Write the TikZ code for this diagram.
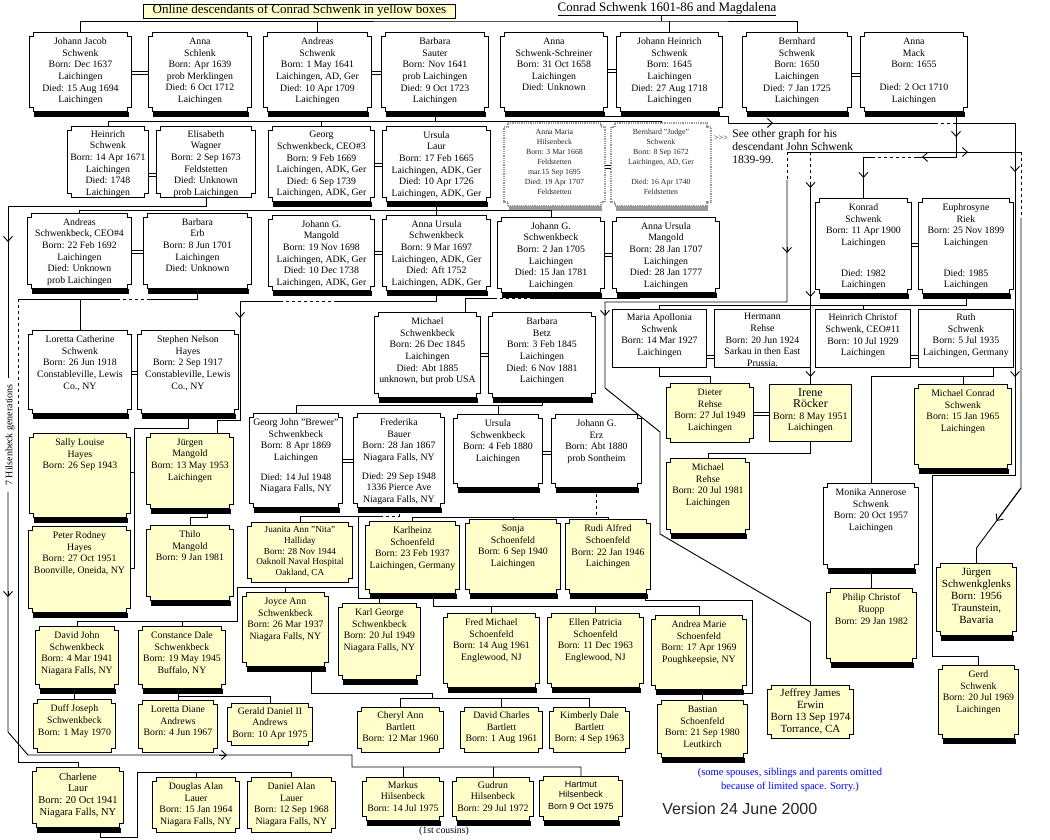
\documentclass[tikz,border=0pt]{standalone}
\usepackage{fontspec}
\setmainfont{Liberation Serif}
\newfontfamily\sansf{Liberation Sans}
\usetikzlibrary{calc,arrows.meta,backgrounds}
\definecolor{pyellow}{RGB}{255,255,204}
\newcommand\cardfont{\fontsize{9.8}{11.6}\selectfont}
\newcommand\smallcard{\fontsize{7.8}{10}\selectfont}
\newcommand\bigcard{\fontsize{11}{12}\selectfont}
\newcommand\headfont{\fontsize{13}{14}\selectfont}
% card text: width, height, lines (top aligned)
\newcommand\who[4][5.5pt]{\parbox[c][#3pt][t]{#2pt}{\centering\vspace*{#1}#4}}
% frames drawn behind the cards
\newcommand\notchframe[3][cardline]{\filldraw[#1, fill=#3] ($(#2.north west)+(4,0)$) -- ($(#2.north east)+(-4,0)$) -- ++(0,4) -- ++(4,0) -- ($(#2.south east)+(0,-4)$) -- ++(-4,0) -- ++(0,4) -- ($(#2.south west)+(4,0)$) -- ++(0,-4) -- ++(-4,0) -- ($(#2.north west)+(0,4)$) -- ++(4,0) -- cycle;}
\newcommand\shadowbar[2][black]{\fill[#1] ($(#2.south west)+(5,0)$) rectangle ($(#2.south east)+(-3,5)$);}
\newcommand\wed[3]{\draw[marry] (#1.east |- 0,#3) -- (#2.west |- 0,#3);}
\tikzset{
  card/.style={anchor=north west, inner sep=0pt, font=\cardfont},
  lbl/.style={inner sep=0pt},
  headbox/.style={draw, fill=pyellow, anchor=north west, minimum width=312pt, minimum height=13pt, inner sep=0pt, font=\headfont, line width=0.8pt},
  cardline/.style={line width=0.9pt},
  greyline/.style={draw=black!40, line width=1.8pt, dash pattern=on 0.9pt off 0.9pt},
  marry/.style={double, double distance=1.6pt, line width=0.8pt},
  barb/.style={-{Straight Barb[length=5pt,width=9pt]}}
}
\begin{document}
\begin{tikzpicture}[x=1pt, y=-1pt, line width=0.9pt]
\useasboundingbox (0,0) rectangle (1050,840);

% headings
\node[headbox] (online) at (143,4) {\underline{Online descendants of Conrad Schwenk in yellow boxes}};
\node[lbl, font=\headfont] (conrad) at (667,9) {\underline{Conrad Schwenk 1601-86 and Magdalena}};

% first generation
\node[card] (jj) at (29,32) {\who{102}{79}{Johann Jacob\\Schwenk\\Born: Dec 1637\\Laichingen\\Died: 15 Aug 1694\\Laichingen}};
\node[card] (annasl) at (148,32) {\who{103}{79}{Anna\\Schlenk\\Born: Apr 1639\\prob Merklingen\\Died: 6 Oct 1712\\Laichingen}};
\node[card] (andreas) at (263,32) {\who{108}{79}{Andreas\\Schwenk\\Born: 1 May 1641\\Laichingen, AD, Ger\\Died: 10 Apr 1709\\Laichingen}};
\node[card] (barbsau) at (381,32) {\who{107}{79}{Barbara\\Sauter\\Born: Nov 1641\\prob Laichingen\\Died: 9 Oct 1723\\Laichingen}};
\node[card] (annass) at (500,32) {\who{107}{79}{Anna\\Schwenk-Schreiner\\Born: 31 Oct 1658\\Laichingen\\Died: Unknown}};
\node[card] (johhein) at (616,32) {\who{106}{79}{Johann Heinrich\\Schwenk\\Born: 1645\\Laichingen\\Died: 27 Aug 1718\\Laichingen}};
\node[card] (bernh) at (742,32) {\who{109}{79}{Bernhard\\Schwenk\\Born: 1650\\Laichingen\\Died: 7 Jan 1725\\Laichingen}};
\node[card] (annamack) at (860,32) {\who{107}{79}{Anna\\Mack\\Born: 1655\\[11.6pt]Died: 2 Oct 1710\\Laichingen}};

% second generation
\node[card] (heinrich) at (67,126) {\who[4pt]{81}{71}{Heinrich\\Schwenk\\Born: 14 Apr 1671\\Laichingen\\Died: 1748\\Laichingen}};
\node[card] (elis) at (156,126) {\who[4pt]{99}{71}{Elisabeth\\Wagner\\Born: 2 Sep 1673\\Feldstetten\\Died: Unknown\\prob Laichingen}};
\node[card] (georg) at (268,126) {\who[5pt]{106}{75}{Georg\\Schwenkbeck, CEO\#3\\Born: 9 Feb 1669\\Laichingen, ADK, Ger\\Died: 6 Sep 1739\\Laichingen, ADK, Ger}};
\node[card] (ursula) at (382,126) {\who[5pt]{108}{75}{Ursula\\Laur\\Born: 17 Feb 1665\\Laichingen, ADK, Ger\\Died: 10 Apr 1726\\Laichingen, ADK, Ger}};
\node[card, font=\smallcard, text=black!85] (amhils) at (504,123) {\who{100}{82}{Anna Maria\\Hilsenbeck\\Born: 3 Mar 1668\\Feldstetten\\mar.15 Sep 1695\\Died: 19 Apr 1707\\Feldstetten}};
\node[card, font=\smallcard, text=black!85] (judge) at (611,123) {\who{99}{82}{Bernhard "Judge"\\Schwenk\\Born: 8 Sep 1672\\Laichingen, AD, Ger\\[10pt]Died: 16 Apr 1740\\Feldstetten}};
\node[lbl, font=\fontsize{8}{9}\selectfont] (more) at (721,138) {>{}>{}>};
\node[lbl, anchor=north west, align=left, font=\fontsize{11.5}{13}\selectfont] (seeother) at (732,129) {See other graph for his\\descendant John Schwenk\\1839-99.};

% third generation
\node[card] (andreas4) at (27,213) {\who[5pt]{104}{75}{Andreas\\Schwenkbeck, CEO\#4\\Born: 22 Feb 1692\\Laichingen\\Died: Unknown\\prob Laichingen}};
\node[card] (barberb) at (143,213) {\who[5pt]{108}{75}{Barbara\\Erb\\Born: 8 Jun 1701\\Laichingen\\Died: Unknown}};
\node[card] (jgmang) at (268,215) {\who[5pt]{106}{75}{Johann G.\\Mangold\\Born: 19 Nov 1698\\Laichingen, ADK, Ger\\Died: 10 Dec 1738\\Laichingen, ADK, Ger}};
\node[card] (aursch) at (382,215) {\who[5pt]{108}{75}{Anna Ursula\\Schwenkbeck\\Born: 9 Mar 1697\\Laichingen, ADK, Ger\\Died: Aft 1752\\Laichingen, ADK, Ger}};
\node[card] (jgschw) at (497,217) {\who[5pt]{107}{75}{Johann G.\\Schwenkbeck\\Born: 2 Jan 1705\\Laichingen\\Died: 15 Jan 1781\\Laichingen}};
\node[card] (aurmang) at (612,217) {\who[5pt]{107}{75}{Anna Ursula\\Mangold\\Born: 28 Jan 1707\\Laichingen\\Died: 28 Jan 1777\\Laichingen}};
\node[card] (konrad) at (815,198) {\who{96}{95}{Konrad\\Schwenk\\Born: 11 Apr 1900\\Laichingen\\[19pt]Died: 1982\\Laichingen}};
\node[card] (euphr) at (918,198) {\who{95}{95}{Euphrosyne\\Riek\\Born: 25 Nov 1899\\Laichingen\\[19pt]Died: 1985\\Laichingen}};

% later generations
\node[card] (loretta) at (28,330) {\who{103}{83}{Loretta Catherine\\Schwenk\\Born: 26 Jun 1918\\Constableville, Lewis\\Co., NY}};
\node[card] (stephen) at (137,330) {\who{101}{83}{Stephen Nelson\\Hayes\\Born: 2 Sep 1917\\Constableville, Lewis\\Co., NY}};
\node[card] (michael) at (374,312) {\who{106}{85}{Michael\\Schwenkbeck\\Born: 26 Dec 1845\\Laichingen\\Died: Abt 1885\\unknown, but prob USA}};
\node[card] (barbetz) at (488,312) {\who{107}{85}{Barbara\\Betz\\Born: 3 Feb 1845\\Laichingen\\Died: 6 Nov 1881\\Laichingen}};
\node[card] (mariaap) at (612,309) {\who[4.5pt]{94}{58}{Maria Apollonia\\Schwenk\\Born: 14 Mar 1927\\Laichingen}};
\node[card] (hermann) at (714,309) {\who[4pt]{96}{58}{Hermann\\Rehse\\Born: 20 Jun 1924\\Sarkau in then East\\Prussia.}};
\node[card] (heinchr) at (815,309) {\who[4.5pt]{95}{58}{Heinrich Christof\\Schwenk, CEO\#11\\Born: 10 Jul 1929\\Laichingen}};
\node[card] (ruth) at (918,309) {\who[4.5pt]{95}{58}{Ruth\\Schwenk\\Born: 5 Jul 1935\\Laichingen, Germany}};

\node[card] (dieter) at (666,383) {\who{87}{59}{Dieter\\Rehse\\Born: 27 Jul 1949\\Laichingen}};
\node[card, font=\fontsize{10}{11.5}\selectfont] (irene) at (769,384) {\who[4pt]{82}{57}{{\fontsize{12}{12}\selectfont Irene\\R\"ocker}\\Born: 8 May 1951\\Laichingen}};
\node[card] (michaelc) at (914,384) {\who{97}{84}{Michael Conrad\\Schwenk\\Born: 15 Jan 1965\\Laichingen}};
\node[card] (georgj) at (249,413) {\who{93}{94}{Georg John "Brewer"\\Schwenkbeck\\Born: 8 Apr 1869\\Laichingen\\[8pt]Died: 14 Jul 1948\\Niagara Falls, NY}};
\node[card] (frederika) at (353,413) {\who{91}{94}{Frederika\\Bauer\\Born: 28 Jan 1867\\Niagara Falls, NY\\[7pt]Died: 29 Sep 1948\\1336 Pierce Ave\\Niagara Falls, NY}};
\node[card] (ursschw) at (453,414) {\who{89}{73}{Ursula\\Schwenkbeck\\Born: 4 Feb 1880\\Laichingen}};
\node[card] (jgerz) at (551,414) {\who{90}{73}{Johann G.\\Erz\\Born: Abt 1880\\prob Sontheim}};
\node[card] (sally) at (29,433) {\who{101}{84}{Sally Louise\\Hayes\\Born: 26 Sep 1943}};
\node[card] (juergen) at (146,433) {\who{87}{75}{J\"urgen\\Mangold\\Born: 13 May 1953\\Laichingen}};
\node[card] (michaelr) at (666,458) {\who{83}{75}{Michael\\Rehse\\Born: 20 Jul 1981\\Laichingen}};
\node[card] (monika) at (823,483) {\who{95}{85}{Monika Annerose\\Schwenk\\Born: 20 Oct 1957\\Laichingen}};

\node[card, font=\fontsize{9.2}{10.8}\selectfont] (juanita) at (247,522) {\who[4pt]{105}{60}{Juanita Ann "Nita"\\Halliday\\Born: 28 Nov 1944\\Oaknoll Naval Hospital\\Oakland, CA}};
\node[card] (karlh) at (365,521) {\who{94}{72}{Karlheinz\\Schoenfeld\\Born: 23 Feb 1937\\Laichingen, Germany}};
\node[card] (sonja) at (465,519) {\who{95}{74}{Sonja\\Schoenfeld\\Born: 6 Sep 1940\\Laichingen}};
\node[card] (rudi) at (565,519) {\who{85}{74}{Rudi Alfred\\Schoenfeld\\Born: 22 Jan 1946\\Laichingen}};
\node[card] (peter) at (28,526) {\who{102}{86}{Peter Rodney\\Hayes\\Born: 27 Oct 1951\\Boonville, Oneida, NY}};
\node[card] (thilo) at (146,525) {\who{87}{75}{Thilo\\Mangold\\Born: 9 Jan 1981}};
\node[card, font=\bigcard] (jsg) at (936,563) {\who[4.5pt]{80}{72}{J\"urgen\\Schwenkglenks\\Born: 1956\\Traunstein,\\Bavaria}};
\node[card] (philip) at (826,588) {\who{90}{74}{Philip Christof\\Ruopp\\Born: 29 Jan 1982}};

\node[card] (joyce) at (242,592) {\who{86}{74}{Joyce Ann\\Schwenkbeck\\Born: 26 Mar 1937\\Niagara Falls, NY}};
\node[card] (karlg) at (338,603) {\who{82}{76}{Karl George\\Schwenkbeck\\Born: 20 Jul 1949\\Niagara Falls, NY}};
\node[card] (fred) at (443,613) {\who{96}{74}{Fred Michael\\Schoenfeld\\Born: 14 Aug 1961\\Englewood, NJ}};
\node[card] (ellen) at (547,613) {\who{96}{74}{Ellen Patricia\\Schoenfeld\\Born: 11 Dec 1963\\Englewood, NJ}};
\node[card] (andrea) at (651,615) {\who{95}{74}{Andrea Marie\\Schoenfeld\\Born: 17 Apr 1969\\Poughkeepsie, NY}};
\node[card] (david) at (35,626) {\who{83}{62}{David John\\Schwenkbeck\\Born: 4 Mar 1941\\Niagara Falls, NY}};
\node[card] (constance) at (138,626) {\who{87}{62}{Constance Dale\\Schwenkbeck\\Born: 19 May 1945\\Buffalo, NY}};
\node[card] (gerd) at (938,665) {\who{80}{73}{Gerd\\Schwenk\\Born: 20 Jul 1969\\Laichingen}};
\node[card, font=\bigcard] (jeffrey) at (767,685) {\who[3pt]{86}{53}{Jeffrey James\\Erwin\\Born 13 Sep 1974\\Torrance, CA}};

\node[card] (duff) at (33,699) {\who{82}{53}{Duff Joseph\\Schwenkbeck\\Born: 1 May 1970}};
\node[card] (lorettad) at (138,700) {\who{79}{52}{Loretta Diane\\Andrews\\Born: 4 Jun 1967}};
\node[card] (gerald) at (227,703) {\who[4pt]{85}{42}{Gerald Daniel II\\Andrews\\Born: 10 Apr 1975}};
\node[card] (bastian) at (657,700) {\who{90}{57}{Bastian\\Schoenfeld\\Born: 21 Sep 1980\\Leutkirch}};
\node[card] (cheryl) at (357,707) {\who[4.5pt]{86}{45}{Cheryl Ann\\Bartlett\\Born: 12 Mar 1960}};
\node[card] (davidc) at (460,707) {\who[4.5pt]{82}{45}{David Charles\\Bartlett\\Born: 1 Aug 1961}};
\node[card] (kimberly) at (549,707) {\who[4.5pt]{80}{45}{Kimberly Dale\\Bartlett\\Born: 4 Sep 1963}};

\node[card, font=\fontsize{10.5}{11.6}\selectfont] (charlene) at (32,767) {\who{91}{60}{Charlene\\Laur\\Born: 20 Oct 1941\\Niagara Falls, NY}};
\node[card] (douglas) at (152,777) {\who{87}{55}{Douglas Alan\\Lauer\\Born: 15 Jan 1964\\Niagara Falls, NY}};
\node[card] (daniel) at (247,777) {\who{88}{55}{Daniel Alan\\Lauer\\Born: 12 Sep 1968\\Niagara Falls, NY}};
\node[card] (markus) at (362,777) {\who[4pt]{81}{43}{Markus\\Hilsenbeck\\Born: 14 Jul 1975}};
\node[card] (gudrun) at (452,777) {\who[4pt]{81}{43}{Gudrun\\Hilsenbeck\\Born: 29 Jul 1972}};
\node[card, font=\sansf\fontsize{9}{9.5}\selectfont] (hartmut) at (539,776) {\who[5pt]{83}{44}{Hartmut\\Hilsenbeck\\[3pt]Born 9 Oct 1975}};

% side texts
\node[lbl, rotate=90, font=\fontsize{10}{11}\selectfont] (gens) at (10,435) {7 Hilsenbeck generations};
\node[lbl, font=\cardfont] (cousins) at (444,831) {(1st cousins)};
\node[lbl, align=center, text=blue, font=\fontsize{10.5}{14}\selectfont] (omitted) at (790,780) {(some spouses, siblings and parents omitted\\because of limited space. Sorry.)};
\node[lbl, anchor=west, text=black!85, font=\sansf\fontsize{16}{18}\selectfont] (version) at (662,809) {Version 24 June 2000};

% Conrad's children
\coordinate (ctop) at (661,21);
\draw (jj.north) |- (ctop) -| (bernh.north);
\draw (andreas.north) -- (andreas.north |- ctop);
\draw (johhein.north) -- (johhein.north |- ctop);
\draw (ctop) -- (ctop |- conrad.south);

% marriages
\wed{jj}{annasl}{73} \wed{andreas}{barbsau}{73} \wed{annass}{johhein}{71} \wed{bernh}{annamack}{75}
\wed{heinrich}{elis}{175} \wed{georg}{ursula}{165} \wed{amhils}{judge}{167}
\wed{andreas4}{barberb}{252} \wed{jgmang}{aursch}{253} \wed{jgschw}{aurmang}{255}
\wed{loretta}{stephen}{373} \wed{michael}{barbetz}{355} \wed{konrad}{euphr}{245}
\wed{mariaap}{hermann}{357} \wed{heinchr}{ruth}{357}
\wed{georgj}{frederika}{461} \wed{ursschw}{jgerz}{453} \wed{dieter}{irene}{414}

% Andreas and Barbara
\draw (barbsau.south) -- (barbsau.south |- 0,121);
\draw (heinrich.north) |- (judge.north |- 0,121) -- (judge.north);
\draw (georg.north) -- (georg.north |- 0,121);

% Anna Schwenk-Schreiner, to the right side
\draw (annass.south) |- (728,116) |- (935,123);
\draw[dashed] (935,123) -- (955,123);
\draw (955,123) -| (1015,475) -| (932,656) -| (gerd.north);
\draw[barb] (765,123) -- (773,123);
\draw[barb] (1015,166) -- (1015,172);
\draw[barb] (1015,371) -- (1015,377);

% Bernhard and Anna Mack
\draw (annamack.south -| 956,0) -- (956,157) -- (917,157);
\draw[dashed] (917,157) -- (873,157);
\draw (873,157) -| (konrad.north);
\draw[barb] (956,131) -- (956,137);
\draw[barb] (930,157) -- (922,157);
\draw[barb] (konrad.north |- 0,172) -- (konrad.north |- 0,178);
\draw (787,152) -- (1021,152);
\draw[barb] (960,152) -- (968,152);
\draw[dashed] (1021,152) -- (1021,218);
\draw (1021,218) -- (1021,488) -- (jsg.north |- 0,548) -- (jsg.north);
\draw[barb] (1021,488) -- ($(1021,488)!0.55!(jsg.north |- 0,548)$);
\draw[dashed] (787,152) -- (787,180);
\draw (787,180) |- (605,302) -- (605,388) -- (660,432) -- (660,534) -- (jeffrey.north |- 0,622) -- (jeffrey.north);
\draw[barb] (787,247) -- (787,253);
\draw[barb] (605,310) -- (605,316);
\draw[dashed] (irene.north |- 0,152) -- (irene.north |- 0,185);
\draw (irene.north |- 0,185) -- (irene.north);
\foreach \y in {188,297,377} \draw[barb] (irene.north |- 0,\y-6) -- (irene.north |- 0,\y);

% Konrad and Euphrosyne
\draw (euphr.south) |- (mariaap.north |- 0,305) -- (mariaap.north);
\draw (heinchr.north) -- (heinchr.north |- 0,305);
\draw (mariaap.south) |- (dieter.north |- 0,376) -- (dieter.north);
\draw (ruth.south -| 993,0) |- (monika.north |- 0,376) -- (monika.north);
\draw (michaelc.north) -- (michaelc.north |- 0,376);
\draw (irene.south) |- (michaelr.north |- 0,453) -- (michaelr.north);
\draw (philip.north |- monika.south) -- (philip.north);

% Heinrich and Elisabeth, down to the Hilsenbeck cousins
\draw (elis.south) |- (8,206) -- (8,378);
\draw (8,492) -- (8,732) -- (28,755) -| (352,767) -| (hartmut.north);
\draw (markus.north) -- (markus.north |- 0,767);
\draw (gudrun.north) -- (gudrun.north |- 0,767);
\draw[barb] (8,236) -- (8,242);
\draw[barb] (8,591) -- (8,597);
\draw[barb] (219,755) -- (227,755);

% Georg and Ursula
\draw (ursula.south) -- (aursch.north);
\draw (andreas4.north) |- (jgschw.north |- 0,210) -- (jgschw.north);

% Andreas CEO#4 and Barbara Erb
\draw (barberb.south) |- (150,299);
\draw[dashed] (150,299) -- (117,299);
\draw (117,299) -- (18,299);
\draw (loretta.north) -- (loretta.north |- 0,299);
\draw[dashed] (18,299) -- (18,410);
\draw (18,410) |- (charlene.north |- 0,762) -- (charlene.north);

% Loretta and Stephen
\draw (stephen.south) |- (134,428) -- (134,568) -- (peter.east |- 0,568);
\draw (sally.east |- 0,472) -- (134,472);

% Anna Ursula and Johann G. Mangold
\draw (aursch.south) |- (337,301);
\draw[dashed] (337,301) -- (283,301);
\draw (283,301) -| (240,420) -| (juergen.north -| 217,0);
\draw[barb] (240,312) -- (240,318);
\draw (juergen.south -| 207,0) |- (thilo.north |- 0,517) -- (thilo.north);

% Johann G. Schwenkbeck and Anna Ursula Mangold
\draw (aurmang.south -| 639,0) |- (533,298);
\draw[dashed] (533,298) -- (497,298);
\draw (497,298) -| (michael.north -| 465,0);

% Michael and Barbara Betz
\draw (barbetz.south) |- (georgj.north |- 0,405) -- (georgj.north);
\draw (ursschw.north) -- (ursschw.north |- 0,405);

% Georg John and Frederika
\draw[dashed] (frederika.south) |- (380,516);
\draw (380,516) -| (juanita.north);
\draw (358,516) |- (karlg.north |- 0,598) -- (karlg.north);
\draw (358,587) -| (237,621) -| (david.north);
\draw (joyce.north) -- (joyce.north |- 0,587);
\draw (constance.north) -- (constance.north |- 0,621);

% Ursula and Johann G. Erz
\draw[dashed] (jgerz.south) -- (jgerz.south |- 0,517);
\draw (karlh.north) |- (rudi.north |- 0,517) -- (rudi.north);
\draw (sonja.north) -- (sonja.north |- 0,517);
\draw (karlh.south -| 393,0) |- (433,598) |- (andrea.north |- 0,606) -- (andrea.north);
\draw (fred.north) -- (fred.north |- 0,606);
\draw (ellen.north) -- (ellen.north |- 0,606);
\draw (rudi.south -| 645,0) |- (752,600) |- (bastian.north |- 0,693) -- (bastian.north);

% Joyce, David John, Constance, Charlene
\draw (joyce.south -| 311,0) |- (432,693) |- (kimberly.north |- 0,698) -- (kimberly.north);
\draw (cheryl.north) |- (432,698);
\draw (davidc.north) -- (davidc.north |- 0,698);
\draw (duff.north) -- (duff.north |- david.south);
\draw (constance.south -| 178,0) |- (gerald.north |- 0,696) -- (gerald.north);
\draw (lorettad.north) -- (lorettad.north |- constance.south);
\draw (charlene.south -| 100,0) |- (137,837) |- (daniel.north |- 0,772) -- (daniel.north);
\draw (douglas.north) -- (douglas.north |- 0,772);

% card frames
\begin{scope}[on background layer]
  \foreach \n/\c in {jj/white, annasl/white, andreas/white, barbsau/white, annass/white, johhein/white, bernh/white, annamack/white,
    georg/white, ursula/white, andreas4/white, barberb/white, jgmang/white, aursch/white, jgschw/white, aurmang/white,
    loretta/white, stephen/white, michael/white, barbetz/white, konrad/white, euphr/white,
    georgj/white, frederika/white, ursschw/white, jgerz/white, monika/white,
    sally/pyellow, juergen/pyellow, michaelc/pyellow, michaelr/pyellow, peter/pyellow, thilo/pyellow,
    karlh/pyellow, sonja/pyellow, rudi/pyellow, jsg/pyellow, philip/pyellow, joyce/pyellow, karlg/pyellow,
    fred/pyellow, ellen/pyellow, andrea/pyellow, david/pyellow, constance/pyellow, gerd/pyellow,
    bastian/pyellow, charlene/pyellow, markus/pyellow, gudrun/pyellow, hartmut/pyellow}
    {\notchframe{\n}{\c}\shadowbar{\n}}
  \foreach \n/\c in {heinrich/white, elis/white, juanita/pyellow, dieter/pyellow, jeffrey/pyellow, duff/pyellow,
    lorettad/pyellow, gerald/pyellow, cheryl/pyellow, davidc/pyellow, kimberly/pyellow, douglas/pyellow, daniel/pyellow}
    {\notchframe{\n}{\c}}
  \foreach \n/\c in {mariaap/white, hermann/white, heinchr/white, ruth/white, irene/pyellow}
    {\filldraw[cardline, fill=\c] (\n.north west) rectangle (\n.south east);}
  \foreach \n in {amhils, judge}
    {\notchframe[greyline]{\n}{white}\shadowbar[black!40]{\n}}
\end{scope}
\end{tikzpicture}
\end{document}
